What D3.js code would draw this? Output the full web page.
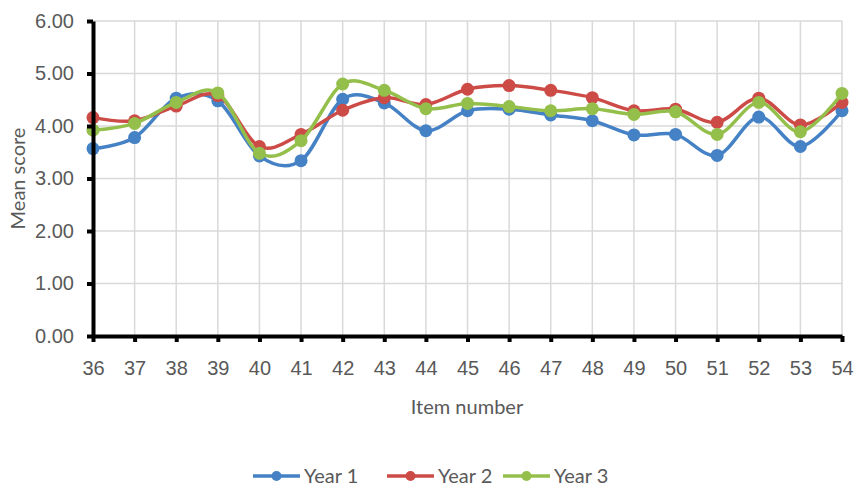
<!DOCTYPE html>
<html>
<head>
<meta charset="utf-8">
<script src="https://cdn.jsdelivr.net/npm/d3@7"></script>
<style>
  html, body { margin: 0; padding: 0; background: #fff; }
  svg { display: block; font-family: Lato, "Open Sans", sans-serif; }
</style>
</head>
<body>
<svg id="chart" width="856" height="488"></svg>
<script>
// Item numbers along the x axis
const items = [36, 37, 38, 39, 40, 41, 42, 43, 44, 45, 46, 47, 48, 49, 50, 51, 52, 53, 54];

// Mean score per item for each year
const year1 = [3.57, 3.78, 4.53, 4.48, 3.43, 3.34, 4.51, 4.44, 3.91, 4.29, 4.32, 4.21, 4.10, 3.83, 3.84, 3.44, 4.17, 3.61, 4.29];
const year2 = [4.16, 4.10, 4.38, 4.58, 3.61, 3.84, 4.30, 4.54, 4.41, 4.70, 4.77, 4.68, 4.54, 4.29, 4.32, 4.07, 4.53, 4.02, 4.45];
const year3 = [3.92, 4.05, 4.45, 4.63, 3.48, 3.72, 4.80, 4.68, 4.33, 4.43, 4.37, 4.29, 4.33, 4.22, 4.27, 3.84, 4.45, 3.89, 4.62];

const seriesNames = ["Year 1", "Year 2", "Year 3"];
const seriesColors = ["#4581c5", "#cd4b47", "#94bf4b"];
const yTicks = [0, 1, 2, 3, 4, 5, 6];

const series = [year1, year2, year3].map((values, i) => ({
  name: seriesNames[i],
  color: seriesColors[i],
  values: values.map((v, j) => ({ item: items[j], value: v }))
}));

const svg = d3.select("#chart");
const margin = { top: 21, right: 14, bottom: 152, left: 93 };
const width = 856 - margin.left - margin.right;
const height = 488 - margin.top - margin.bottom;

const x = d3.scalePoint().domain(items).range([0, width]).padding(0);
const y = d3.scaleLinear().domain([0, 6]).range([height, 0]);

const g = svg.append("g").attr("transform", `translate(${margin.left},${margin.top})`);

// Gridlines
g.append("g")
  .selectAll("line.h")
  .data(yTicks)
  .join("line")
  .attr("x1", 0).attr("x2", width)
  .attr("y1", d => y(d)).attr("y2", d => y(d))
  .attr("stroke", "#d9d9d9").attr("stroke-width", 1.5);

g.append("g")
  .selectAll("line.v")
  .data(items)
  .join("line")
  .attr("x1", d => x(d)).attr("x2", d => x(d))
  .attr("y1", 0).attr("y2", height)
  .attr("stroke", "#d9d9d9").attr("stroke-width", 1.5);

// Series lines and markers
const line = d3.line()
  .x(d => x(d.item))
  .y(d => y(d.value))
  .curve(d3.curveCardinal.tension(0));

series.forEach(s => {
  const sg = g.append("g");
  sg.append("path")
    .attr("d", line(s.values))
    .attr("fill", "none")
    .attr("stroke", s.color)
    .attr("stroke-width", 3.5)
    .attr("stroke-linejoin", "round");
  sg.selectAll("circle")
    .data(s.values)
    .join("circle")
    .attr("cx", d => x(d.item))
    .attr("cy", d => y(d.value))
    .attr("r", 6.5)
    .attr("fill", s.color);
});

// Axes
const yAxis = g.append("g")
  .call(d3.axisLeft(y).tickValues(yTicks).tickFormat(d3.format(".2f")).tickSize(6).tickSizeOuter(0).tickPadding(13));
const xAxis = g.append("g")
  .attr("transform", `translate(0,${height})`)
  .call(d3.axisBottom(x).tickSize(6).tickSizeOuter(0).tickPadding(19));

[yAxis, xAxis].forEach(a => {
  a.select(".domain").attr("stroke", "#000").attr("stroke-width", 4);
  a.selectAll(".tick line").attr("stroke", "#000").attr("stroke-width", 4);
  a.selectAll(".tick text")
    .attr("fill", "#595959")
    .style("font-size", "20px");
});

// Axis titles
svg.append("text")
  .attr("transform", `translate(25,${margin.top + height / 2}) rotate(-90)`)
  .attr("text-anchor", "middle")
  .attr("fill", "#595959")
  .style("font-size", "20px")
  .text("Mean score");

svg.append("text")
  .attr("x", 467)
  .attr("y", 414)
  .attr("text-anchor", "middle")
  .attr("fill", "#595959")
  .style("font-size", "20px")
  .text("Item number");

// Legend
const legendX = [253, 387, 503];
const legend = svg.append("g");
series.forEach((s, i) => {
  const lg = legend.append("g").attr("transform", `translate(${legendX[i]},476)`);
  lg.append("line")
    .attr("x1", 0).attr("x2", 47)
    .attr("y1", 0).attr("y2", 0)
    .attr("stroke", s.color).attr("stroke-width", 3.5);
  lg.append("circle")
    .attr("cx", 23.5).attr("cy", 0).attr("r", 5)
    .attr("fill", s.color);
  lg.append("text")
    .attr("x", 51).attr("y", 7)
    .attr("fill", "#595959")
    .style("font-size", "20px")
    .text(s.name);
});
</script>
</body>
</html>
